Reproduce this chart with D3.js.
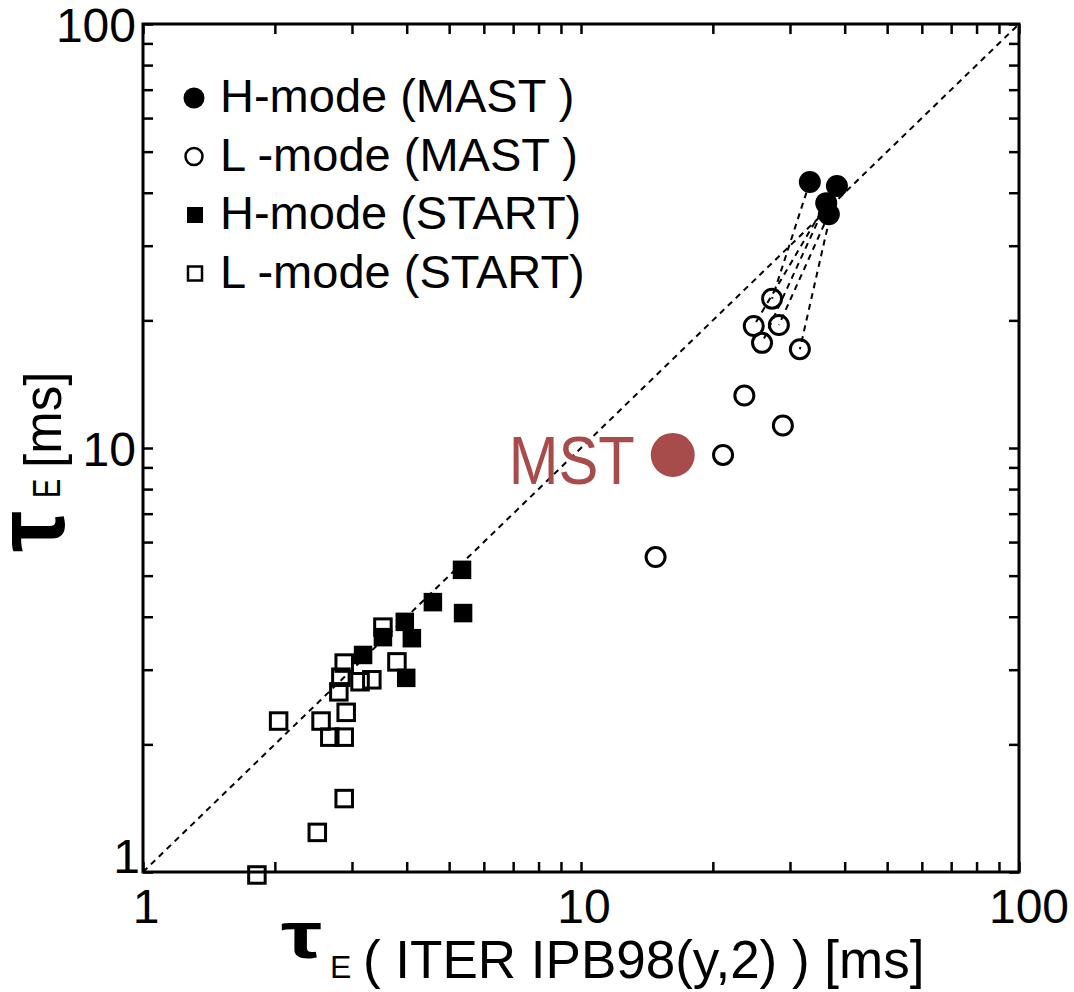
<!DOCTYPE html>
<html>
<head>
<meta charset="utf-8">
<script src="https://cdn.jsdelivr.net/npm/d3@7"></script>
<style>
  html, body { margin: 0; padding: 0; background: #fff; }
  svg { display: block; }
  text { font-family: "Liberation Sans", Arial, sans-serif; fill: #000; }
</style>
</head>
<body>
<svg id="chart" width="1074" height="992"></svg>
<script>
// Confinement time: measured vs. ITER IPB98(y,2) scaling, values in ms [x, y]
const hModeMast = [[33.3, 42.4], [38.4, 41.5], [36.3, 37.8], [36.8, 35.6]];
const lModeMast = [[27.3, 22.5], [24.8, 19.4], [28.3, 19.5], [31.6, 17.1], [25.9, 17.7],
                   [23.6, 13.3], [28.9, 11.3], [21.1, 9.63], [14.8, 5.53]];
// same-shot H/L pairs in MAST, as [H index, L index]
const mastPairs = [[0, 0], [2, 1], [3, 2], [1, 3], [2, 4]];
const hModeStart = [[5.35, 5.16], [4.59, 4.33], [5.38, 4.08], [3.96, 3.89], [4.11, 3.56],
                    [3.53, 3.58], [3.18, 3.25], [3.99, 2.87]];
const lModeStart = [[3.53, 3.78], [2.88, 3.11], [2.83, 2.88], [2.80, 2.66], [3.80, 3.13],
                    [3.13, 2.81], [3.33, 2.84], [2.04, 2.27], [2.55, 2.27], [2.91, 2.38],
                    [2.67, 2.08], [2.88, 2.08], [2.88, 1.49], [2.50, 1.24], [1.82, 0.984]];
const mstPoint = { label: "MST", x: 16.2, y: 9.63 };
const legendLabels = ["H-mode (MAST )", "L -mode (MAST )", "H-mode (START)", "L -mode (START)"];
const tickLabels = [1, 10, 100];
const axisDomain = [1, 100];

const svg = d3.select("#chart");
const mLeft = 143, mRight = 1019, mTop = 24, mBottom = 872;

const x = d3.scaleLog().domain(axisDomain).range([mLeft, mRight]);
const y = d3.scaleLog().domain(axisDomain).range([mBottom, mTop]);

// every 1..9 multiple in each decade
const tickVals = [];
for (let d = 1; d < 100; d *= 10) for (let m = 1; m < 10; m++) tickVals.push(m * d);
tickVals.push(100);

function styleAxis(g) {
  g.select(".domain").remove();
  g.selectAll(".tick line").attr("stroke", "#000").attr("stroke-width", 2.5);
  g.selectAll(".tick text").remove();
}
const T = 10;
svg.append("g").attr("transform", `translate(0,${mBottom})`)
  .call(d3.axisBottom(x).tickValues(tickVals).tickSizeInner(-T).tickSizeOuter(0)).call(styleAxis);
svg.append("g").attr("transform", `translate(0,${mTop})`)
  .call(d3.axisTop(x).tickValues(tickVals).tickSizeInner(-T).tickSizeOuter(0)).call(styleAxis);
svg.append("g").attr("transform", `translate(${mLeft},0)`)
  .call(d3.axisLeft(y).tickValues(tickVals).tickSizeInner(-T).tickSizeOuter(0)).call(styleAxis);
svg.append("g").attr("transform", `translate(${mRight},0)`)
  .call(d3.axisRight(y).tickValues(tickVals).tickSizeInner(-T).tickSizeOuter(0)).call(styleAxis);

// frame
svg.append("rect").attr("x", mLeft).attr("y", mTop)
  .attr("width", mRight - mLeft).attr("height", mBottom - mTop)
  .attr("fill", "none").attr("stroke", "#000").attr("stroke-width", 3);

// tick labels
const labelSize = 48;
svg.append("g").selectAll("text").data(tickLabels).join("text")
  .attr("x", d => x(d) + (d === 100 ? 10 : 3))
  .attr("y", mBottom + 51)
  .attr("text-anchor", "middle")
  .attr("font-size", labelSize)
  .text(d => d);
svg.append("g").selectAll("text").data(tickLabels).join("text")
  .attr("x", d => d === 1 ? 140 : 136)
  .attr("y", d => d === 1 ? y(d) + 1 : y(d) + 18)
  .attr("text-anchor", "end")
  .attr("font-size", labelSize)
  .text(d => d);

// y = x reference line
const dash = "6,5";
svg.append("line")
  .attr("x1", x(1)).attr("y1", y(1)).attr("x2", x(100)).attr("y2", y(100))
  .attr("stroke", "#000").attr("stroke-width", 2).attr("stroke-dasharray", dash);

// H/L pair connectors
svg.append("g").selectAll("line").data(mastPairs).join("line")
  .attr("x1", d => x(hModeMast[d[0]][0])).attr("y1", d => y(hModeMast[d[0]][1]))
  .attr("x2", d => x(lModeMast[d[1]][0])).attr("y2", d => y(lModeMast[d[1]][1]))
  .attr("stroke", "#000").attr("stroke-width", 2).attr("stroke-dasharray", dash);

// markers
const rC = 9.5, sq = 16.5;
svg.append("g").selectAll("rect").data(lModeStart).join("rect")
  .attr("x", d => x(d[0]) - sq / 2).attr("y", d => y(d[1]) - sq / 2)
  .attr("width", sq).attr("height", sq)
  .attr("fill", "none").attr("stroke", "#000").attr("stroke-width", 3);
svg.append("g").selectAll("circle").data(lModeMast).join("circle")
  .attr("cx", d => x(d[0])).attr("cy", d => y(d[1])).attr("r", rC)
  .attr("fill", "none").attr("stroke", "#000").attr("stroke-width", 3);
svg.append("g").selectAll("rect").data(hModeStart).join("rect")
  .attr("x", d => x(d[0]) - sq / 2 - 1).attr("y", d => y(d[1]) - sq / 2 - 1)
  .attr("width", sq + 2).attr("height", sq + 2)
  .attr("fill", "#000");
svg.append("g").selectAll("circle").data(hModeMast).join("circle")
  .attr("cx", d => x(d[0])).attr("cy", d => y(d[1])).attr("r", rC + 1.5)
  .attr("fill", "#000");

// legend
const legend = svg.append("g");
const lx = 195, ly0 = 98, dy = 58.5;
legend.append("circle").attr("cx", lx - 1).attr("cy", ly0).attr("r", 10.5).attr("fill", "#000");
legend.append("circle").attr("cx", lx - 1).attr("cy", ly0 + dy).attr("r", 8.5)
  .attr("fill", "none").attr("stroke", "#000").attr("stroke-width", 2.5);
legend.append("rect").attr("x", lx - 8).attr("y", ly0 + 2 * dy - 8).attr("width", 16).attr("height", 16)
  .attr("fill", "#000");
legend.append("rect").attr("x", lx - 7).attr("y", ly0 + 3 * dy - 7).attr("width", 14).attr("height", 14)
  .attr("fill", "none").attr("stroke", "#000").attr("stroke-width", 2.5);
legend.selectAll("text.lab").data(legendLabels).join("text").attr("class", "lab")
  .attr("x", 220).attr("y", (d, i) => ly0 + 14 + i * dy)
  .attr("font-size", 47)
  .text(d => d);

// highlighted MST point
const mstColor = "#a84b4b";
svg.append("circle").attr("cx", x(mstPoint.x)).attr("cy", y(mstPoint.y)).attr("r", 22)
  .attr("fill", mstColor);
svg.append("text")
  .attr("x", x(mstPoint.x) - 164).attr("y", y(mstPoint.y) + 29)
  .attr("font-family", "'Open Sans', sans-serif")
  .attr("font-size", 68)
  .attr("textLength", 126).attr("lengthAdjust", "spacingAndGlyphs")
  .style("fill", mstColor)
  .text(mstPoint.label);

// x axis title
const tauFont = "'Liberation Serif', 'Times New Roman', serif";
const xt = svg.append("g");
xt.append("text").attr("transform", "translate(281,958) scale(1.4,1)")
  .attr("font-family", tauFont).attr("font-weight", "bold")
  .attr("font-size", 66).text("τ");
xt.append("text").attr("x", 330).attr("y", 978).attr("font-size", 32).text("E");
xt.append("text").attr("x", 363).attr("y", 978).attr("font-size", 53)
  .text("( ITER IPB98(y,2) ) [ms]");

// y axis title (rotated)
const yt = svg.append("g").attr("transform", "rotate(-90)");
yt.append("text").attr("transform", "translate(-552,64) scale(1.4,1.5)")
  .attr("font-family", tauFont).attr("font-weight", "bold")
  .attr("font-size", 66).text("τ");
yt.append("text").attr("transform", "translate(-498,60) scale(0.8,1.1)")
  .attr("font-size", 36).text("E");
yt.append("text").attr("x", -468).attr("y", 61).attr("font-size", 51).text("[ms]");
</script>
</body>
</html>
